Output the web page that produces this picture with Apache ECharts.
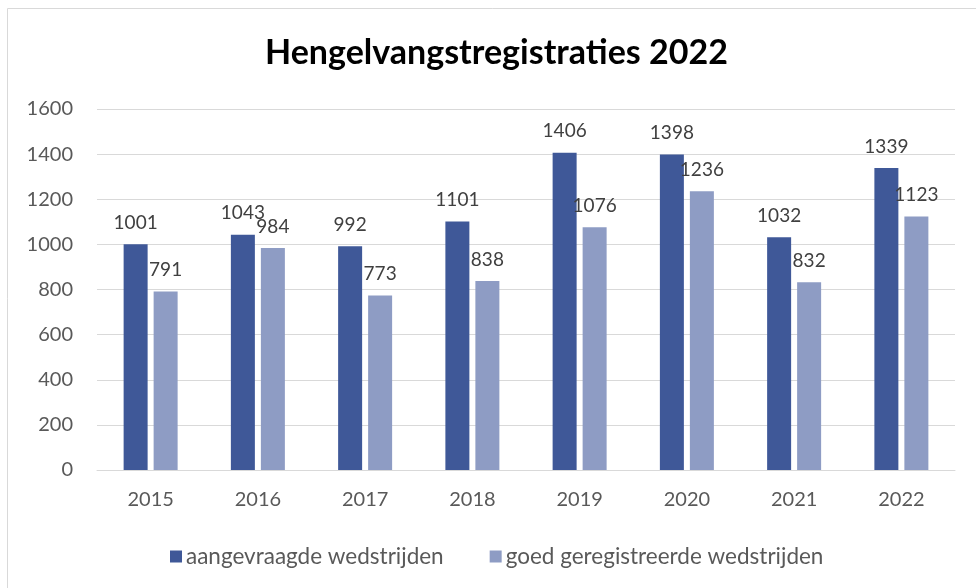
<!DOCTYPE html>
<html>
<head>
<meta charset="utf-8">
<script src="https://cdn.jsdelivr.net/npm/echarts@6/dist/echarts.min.js"></script>
<style>
  html, body { margin: 0; padding: 0; background: #fff; }
  #chart { width: 976px; height: 588px; }
</style>
</head>
<body>
<div id="chart"></div>
<script>
// data
var years = ['2015', '2016', '2017', '2018', '2019', '2020', '2021', '2022'];
var aangevraagd = [1001, 1043, 992, 1101, 1406, 1398, 1032, 1339];
var geregistreerd = [791, 984, 773, 838, 1076, 1236, 832, 1123];
var yTicks = [0, 200, 400, 600, 800, 1000, 1200, 1400, 1600];

var font = 'Lato, "Open Sans", sans-serif';
var myChart = echarts.init(document.getElementById('chart'));

var option = {
    animation: false,
    textStyle: { fontFamily: font },
    title: {
        text: 'Hengelvangstregistraties 2022',
        left: 260,
        top: 31,
        textStyle: { fontFamily: font, fontSize: 34, fontWeight: 'bold', color: '#000' }
    },
    graphic: [{
        type: 'rect',
        shape: { x: 7.5, y: 8.5, width: 980, height: 600 },
        style: { fill: 'none', stroke: '#d9d9d9', lineWidth: 1 }
    }],
    legend: {
        top: 540,
        left: 165,
        itemWidth: 12,
        itemHeight: 12,
        itemGap: 46,
        icon: 'rect',
        textStyle: { fontFamily: font, fontSize: 22.5, color: '#595959', padding: [0, 0, 0, -1] },
        data: ['aangevraagde wedstrijden', 'goed geregistreerde wedstrijden']
    },
    grid: { left: 97, right: 21, top: 109, bottom: 118 },
    xAxis: {
        type: 'category',
        data: years,
        axisTick: { show: false },
        axisLine: { lineStyle: { color: '#d9d9d9' } },
        axisLabel: { fontFamily: font, fontSize: 20, color: '#595959', margin: 20 }
    },
    yAxis: {
        type: 'value',
        min: yTicks[0],
        max: yTicks[yTicks.length - 1],
        interval: 200,
        axisLine: { show: false },
        axisTick: { show: false },
        splitLine: { lineStyle: { color: '#d9d9d9' } },
        axisLabel: {
            fontFamily: font, fontSize: 20, color: '#595959', margin: 24,
            formatter: function (v) { return String(v); }
        }
    },
    series: [{
        name: 'aangevraagde wedstrijden',
        type: 'bar',
        barWidth: 24,
        barGap: '25%',
        itemStyle: { color: '#3F5898' },
        label: { show: true, position: 'top', distance: 12, fontFamily: font, fontSize: 19, color: '#404040' },
        data: aangevraagd
    }, {
        name: 'goed geregistreerde wedstrijden',
        type: 'bar',
        barWidth: 24,
        itemStyle: { color: '#8E9CC4' },
        label: { show: true, position: 'top', distance: 12, fontFamily: font, fontSize: 19, color: '#404040' },
        data: geregistreerd
    }]
};

myChart.setOption(option);
</script>
</body>
</html>
